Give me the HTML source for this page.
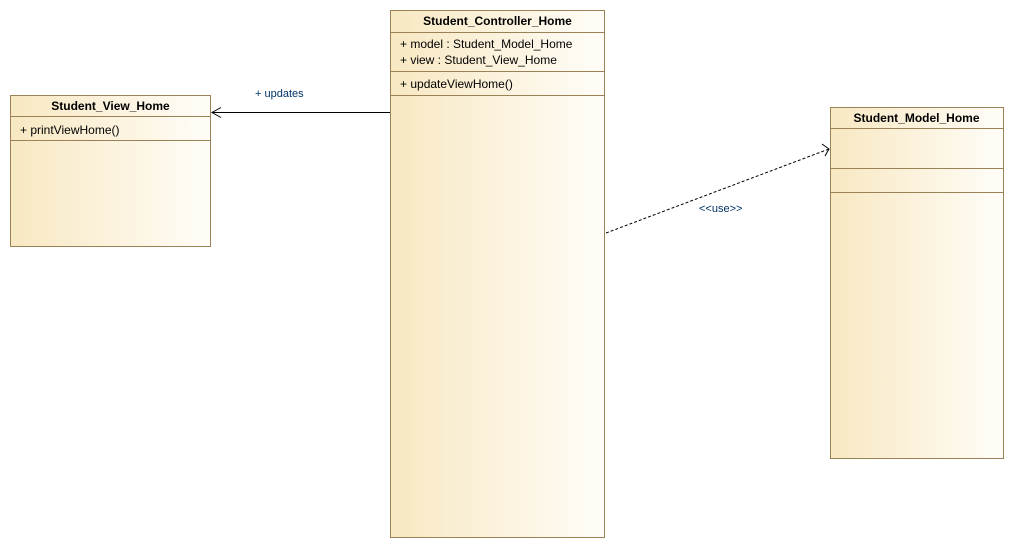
<!DOCTYPE html>
<html><head><style>body{margin:0;background:#fff}svg{display:block}text{font-family:"Liberation Sans",Arial,sans-serif;font-size:12px;fill:#000}</style></head><body>
<svg width="1015" height="549" viewBox="0 0 1015 549">
<defs><linearGradient id="g" x1="0" y1="0" x2="1" y2="0"><stop offset="0" stop-color="#f8e8c2"/><stop offset="1" stop-color="#fffdf8"/></linearGradient></defs>
<g stroke="#9a8156" stroke-width="1">
<rect x="10.5" y="95.5" width="200" height="151" fill="url(#g)"/>
<line x1="10" y1="116.5" x2="211" y2="116.5"/><line x1="10" y1="140.5" x2="211" y2="140.5"/>
<rect x="390.5" y="10.5" width="214" height="527" fill="url(#g)"/>
<line x1="390" y1="32.5" x2="605" y2="32.5"/><line x1="390" y1="71.5" x2="605" y2="71.5"/><line x1="390" y1="95.5" x2="605" y2="95.5"/>
<rect x="830.5" y="107.5" width="173" height="351" fill="url(#g)"/>
<line x1="830" y1="128.5" x2="1004" y2="128.5"/><line x1="830" y1="168.5" x2="1004" y2="168.5"/><line x1="830" y1="192.5" x2="1004" y2="192.5"/>
</g>
<text x="110.5" y="110" text-anchor="middle" font-weight="bold">Student_View_Home</text>
<text x="20" y="134">+ printViewHome()</text>
<text x="497.5" y="25" text-anchor="middle" font-weight="bold">Student_Controller_Home</text>
<text x="400" y="48">+ model : Student_Model_Home</text>
<text x="400" y="64">+ view : Student_View_Home</text>
<text x="400" y="88">+ updateViewHome()</text>
<text x="916.5" y="122" text-anchor="middle" font-weight="bold">Student_Model_Home</text>
<g stroke="#000" fill="none" stroke-width="1">
<line x1="212" y1="112.5" x2="390" y2="112.5"/>
<polyline points="221,107.5 212,112.5 221,117.5"/>
<line x1="606" y1="233" x2="829" y2="149" stroke-dasharray="3,2"/>
<polyline points="822,144 829,149 825,156"/>
</g>
<text x="255" y="97" style="font-size:11px;fill:#003366">+ updates</text>
<text x="699" y="212" style="font-size:11px;fill:#003366">&lt;&lt;use&gt;&gt;</text>
</svg>
</body></html>
